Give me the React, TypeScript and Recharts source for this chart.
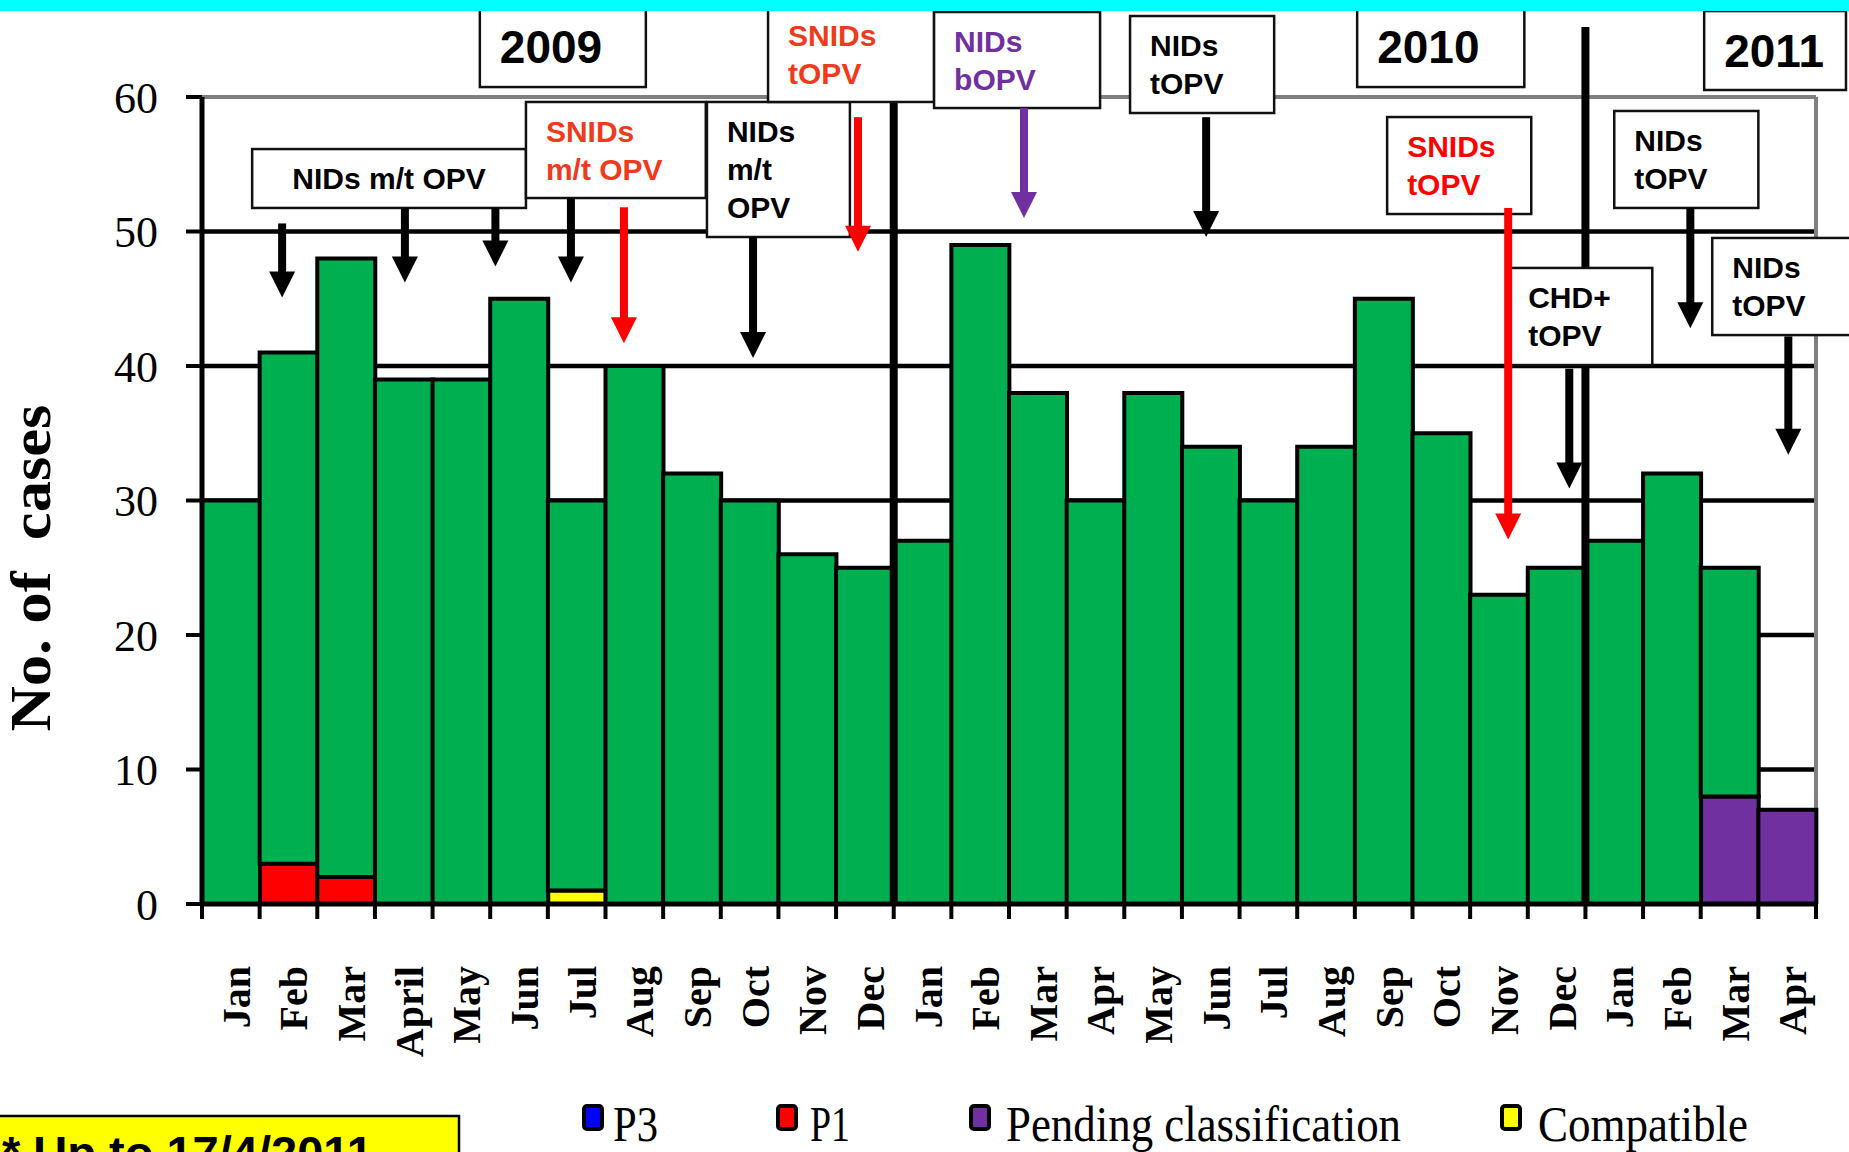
import React from "react";
import {
  BarChart,
  Bar,
  XAxis,
  YAxis,
  CartesianGrid,
  ReferenceLine,
  ReferenceArea,
} from "recharts";

// ── Data ──────────────────────────────────────────────────────────────────────

const periods = [
  "2009 Jan", "2009 Feb", "2009 Mar", "2009 Apr", "2009 May", "2009 Jun",
  "2009 Jul", "2009 Aug", "2009 Sep", "2009 Oct", "2009 Nov", "2009 Dec",
  "2010 Jan", "2010 Feb", "2010 Mar", "2010 Apr", "2010 May", "2010 Jun",
  "2010 Jul", "2010 Aug", "2010 Sep", "2010 Oct", "2010 Nov", "2010 Dec",
  "2011 Jan", "2011 Feb", "2011 Mar", "2011 Apr",
];

const monthLabels = [
  "Jan", "Feb", "Mar", "April", "May", "Jun", "Jul", "Aug", "Sep", "Oct", "Nov", "Dec",
  "Jan", "Feb", "Mar", "Apr", "May", "Jun", "Jul", "Aug", "Sep", "Oct", "Nov", "Dec",
  "Jan", "Feb", "Mar", "Apr",
];

// green (no legend entry) – discarded cases
const discarded = [
  30, 38, 46, 39, 39, 45, 29, 40, 32, 30, 26, 25,
  27, 49, 38, 30, 38, 34, 30, 34, 45, 35, 23, 25,
  27, 32, 17, 0,
];
const p3 = [
  0, 0, 0, 0, 0, 0, 0, 0, 0, 0, 0, 0,
  0, 0, 0, 0, 0, 0, 0, 0, 0, 0, 0, 0,
  0, 0, 0, 0,
];
const p1 = [
  0, 3, 2, 0, 0, 0, 0, 0, 0, 0, 0, 0,
  0, 0, 0, 0, 0, 0, 0, 0, 0, 0, 0, 0,
  0, 0, 0, 0,
];
const compatible = [
  0, 0, 0, 0, 0, 0, 1, 0, 0, 0, 0, 0,
  0, 0, 0, 0, 0, 0, 0, 0, 0, 0, 0, 0,
  0, 0, 0, 0,
];
const pending = [
  0, 0, 0, 0, 0, 0, 0, 0, 0, 0, 0, 0,
  0, 0, 0, 0, 0, 0, 0, 0, 0, 0, 0, 0,
  0, 0, 8, 7,
];

const yTicks = [0, 10, 20, 30, 40, 50, 60];
const gridValues = [10, 20, 30, 40, 50];

// year separators (category boundaries) and their top (value units)
const yearBreaks = [
  { x: 12, top: 59.6 },
  { x: 24, top: 65.2 },
];

// annotation boxes, x in month units (0..28), y in case units
const yearTags = [
  { text: "2009", x1: 4.82, x2: 7.7, y1: 60.74, y2: 66.69 },
  { text: "2010", x1: 20.04, x2: 22.94, y1: 60.74, y2: 66.69 },
  { text: "2011", x1: 26.06, x2: 28.52, y1: 60.52, y2: 66.39 },
];

const campaigns = [
  { lines: ["NIDs m/t OPV"], tone: "black", x1: 0.87, x2: 5.62, y1: 51.75, y2: 56.13 },
  { lines: ["SNIDs", "m/t OPV"], tone: "orange", x1: 5.62, x2: 8.74, y1: 52.49, y2: 59.63 },
  { lines: ["NIDs", "m/t", "OPV"], tone: "black", x1: 8.76, x2: 11.24, y1: 49.59, y2: 59.63 },
  { lines: ["SNIDs", "tOPV"], tone: "orange", x1: 9.82, x2: 12.7, y1: 59.63, y2: 66.77 },
  { lines: ["NIDs", "bOPV"], tone: "purple", x1: 12.7, x2: 15.58, y1: 59.18, y2: 66.32 },
  { lines: ["NIDs", "tOPV"], tone: "black", x1: 16.1, x2: 18.6, y1: 58.81, y2: 66.02 },
  { lines: ["SNIDs", "tOPV"], tone: "red", x1: 20.56, x2: 23.06, y1: 51.3, y2: 58.51 },
  { lines: ["CHD+", "tOPV"], tone: "black", x1: 22.66, x2: 25.16, y1: 40.07, y2: 47.29 },
  { lines: ["NIDs", "tOPV"], tone: "black", x1: 24.5, x2: 27.0, y1: 51.75, y2: 58.96 },
  { lines: ["NIDs", "tOPV"], tone: "black", x1: 26.2, x2: 28.8, y1: 42.3, y2: 49.52 },
];

const arrows = [
  { x: 1.39, from: 50.6, to: 45.1, tone: "black" },
  { x: 3.52, from: 51.75, to: 46.2, tone: "black" },
  { x: 5.09, from: 51.75, to: 47.4, tone: "black" },
  { x: 6.4, from: 52.49, to: 46.2, tone: "black" },
  { x: 7.32, from: 51.8, to: 41.7, tone: "red" },
  { x: 9.56, from: 49.59, to: 40.6, tone: "black" },
  { x: 11.38, from: 58.5, to: 48.5, tone: "red" },
  { x: 14.26, from: 59.18, to: 51.0, tone: "purple" },
  { x: 17.42, from: 58.5, to: 49.6, tone: "black" },
  { x: 22.66, from: 51.75, to: 27.1, tone: "red" },
  { x: 23.72, from: 39.8, to: 30.9, tone: "black" },
  { x: 25.82, from: 51.75, to: 42.8, tone: "black" },
  { x: 27.52, from: 42.2, to: 33.4, tone: "black" },
];

const legendItems = [
  { label: "P3", color: "#0000FF" },
  { label: "P1", color: "#FF0000" },
  { label: "Pending classification", color: "#7030A0" },
  { label: "Compatible", color: "#FFFF00" },
];

// ── Layout / styles ───────────────────────────────────────────────────────────

const W = 1849;
const H = 1152;
const PLOT_LEFT = 202;
const PLOT_RIGHT = 1816;
const PLOT_TOP = 97;
const PLOT_BOTTOM = 904;
const Y_AXIS_W = 60;
const X_AXIS_H = 150;
const BAND = (PLOT_RIGHT - PLOT_LEFT) / periods.length;

const SERIF = '"Liberation Serif", "Times New Roman", Times, serif';
const SANS = '"Liberation Sans", Arial, Helvetica, sans-serif';

const TONES: Record<string, string> = {
  black: "#000000",
  orange: "#EF3B1D",
  red: "#FF0000",
  purple: "#7030A0",
};

const COLORS = {
  discarded: "#00B050",
  p3: "#0000FF",
  p1: "#FF0000",
  compatible: "#FFFF00",
  pending: "#7030A0",
};

const LEGEND_POS = [
  { marker: 584, text: 613, len: 45 },
  { marker: 778, text: 810, len: 40 },
  { marker: 971, text: 1006, len: 395 },
  { marker: 1502, text: 1538, len: 210 },
];

const data = periods.map((period, i) => ({
  period,
  pos: i + 0.5,
  p3: p3[i],
  p1: p1[i],
  compatible: compatible[i],
  pending: pending[i],
  discarded: discarded[i],
}));

// ── Custom pieces ─────────────────────────────────────────────────────────────

function MonthTick(props: any) {
  const { x, y, payload, index } = props;
  const i = periods.indexOf(payload.value);
  const label = i >= 0 ? monthLabels[i] : "";
  const half = BAND / 2;
  return (
    <g transform={`translate(${x},${y})`}>
      <line x1={-half} y1={0} x2={-half} y2={15} stroke="#000" strokeWidth={4} />
      {index === periods.length - 1 && (
        <line x1={half} y1={0} x2={half} y2={15} stroke="#000" strokeWidth={4} />
      )}
      <text
        transform="rotate(-90)"
        x={-62}
        y={19}
        textAnchor="end"
        fontFamily={SERIF}
        fontWeight="bold"
        fontSize={40}
        fill="#000"
      >
        {label}
      </text>
    </g>
  );
}

function arrowShape(color: string) {
  return (p: any) => {
    const x = p.x1;
    const top = Math.min(p.y1, p.y2);
    const tip = Math.max(p.y1, p.y2);
    const head = 26;
    const half = 13;
    return (
      <g>
        <rect x={x - 4} y={top} width={8} height={Math.max(0, tip - head - top + 1)} fill={color} />
        <polygon
          points={`${x - half},${tip - head} ${x + half},${tip - head} ${x},${tip}`}
          fill={color}
        />
      </g>
    );
  };
}

function noteShape(lines: string[], color: string) {
  return (p: any) => {
    const { x, y, width, height } = p;
    const centered = lines.length === 1;
    return (
      <g>
        <rect x={x} y={y} width={width} height={height} fill="#fff" stroke="#111" strokeWidth={2.5} />
        {lines.map((t, i) => (
          <text
            key={i}
            x={centered ? x + width / 2 : x + 20}
            y={y + 40 + i * 38}
            textAnchor={centered ? "middle" : "start"}
            fontFamily={SANS}
            fontWeight="bold"
            fontSize={30}
            fill={color}
          >
            {t}
          </text>
        ))}
      </g>
    );
  };
}

function yearShape(text: string) {
  return (p: any) => {
    const { x, y, width, height } = p;
    return (
      <g>
        <rect x={x} y={y} width={width} height={height} fill="#fff" stroke="#111" strokeWidth={2.5} />
        <text x={x + 20} y={y + 56} fontFamily={SANS} fontWeight="bold" fontSize={46} fill="#000">
          {text}
        </text>
      </g>
    );
  };
}

// ── Main export ───────────────────────────────────────────────────────────────

export default function App() {
  return (
    <div
      style={{
        position: "absolute",
        left: 0,
        top: 0,
        width: W,
        height: H,
        overflow: "hidden",
        background: "#fff",
      }}
    >
      <BarChart
        width={W}
        height={H}
        data={data}
        barCategoryGap={0}
        barGap={0}
        margin={{
          top: PLOT_TOP,
          right: W - PLOT_RIGHT,
          bottom: H - PLOT_BOTTOM - X_AXIS_H,
          left: PLOT_LEFT - Y_AXIS_W,
        }}
      >
        <CartesianGrid
          vertical={false}
          horizontalValues={gridValues}
          stroke="#000"
          strokeWidth={4.5}
        />
        <XAxis
          dataKey="period"
          interval={0}
          tick={<MonthTick />}
          tickLine={false}
          tickSize={0}
          tickMargin={0}
          height={X_AXIS_H}
          axisLine={{ stroke: "#000", strokeWidth: 5 }}
        />
        <XAxis xAxisId="n" type="number" dataKey="pos" domain={[0, 28]} allowDataOverflow hide />
        <YAxis
          domain={[0, 60]}
          ticks={yTicks}
          interval={0}
          width={Y_AXIS_W}
          tickSize={16}
          tickMargin={28}
          allowDataOverflow
          tick={{ fontSize: 44, fill: "#000", fontFamily: SERIF }}
          tickLine={{ stroke: "#000", strokeWidth: 4 }}
          axisLine={{ stroke: "#000", strokeWidth: 5 }}
        />

        {/* plot frame, right side, grey (under the bars) */}
        <ReferenceLine
          xAxisId="n"
          segment={[{ x: 28, y: 0 }, { x: 28, y: 60 }]}
          stroke="#808080"
          strokeWidth={4}
          ifOverflow="visible"
          zIndex={250}
        />

        <Bar dataKey="p3" stackId="a" fill={COLORS.p3} stroke="#000" strokeWidth={4} isAnimationActive={false} />
        <Bar dataKey="p1" stackId="a" fill={COLORS.p1} stroke="#000" strokeWidth={4} isAnimationActive={false} />
        <Bar dataKey="compatible" stackId="a" fill={COLORS.compatible} stroke="#000" strokeWidth={4} isAnimationActive={false} />
        <Bar dataKey="pending" stackId="a" fill={COLORS.pending} stroke="#000" strokeWidth={4} isAnimationActive={false} />
        <Bar dataKey="discarded" stackId="a" fill={COLORS.discarded} stroke="#000" strokeWidth={4} isAnimationActive={false} />

        {/* plot frame, top, grey */}
        <ReferenceLine
          xAxisId="n"
          segment={[{ x: 0, y: 60 }, { x: 28, y: 60 }]}
          stroke="#808080"
          strokeWidth={4}
          ifOverflow="visible"
          zIndex={450}
        />

        {/* year separators */}
        {yearBreaks.map((b, i) => (
          <ReferenceLine
            key={`yb${i}`}
            xAxisId="n"
            segment={[{ x: b.x, y: 0 }, { x: b.x, y: b.top }]}
            stroke="#000"
            strokeWidth={8}
            ifOverflow="visible"
            zIndex={460}
          />
        ))}

        {/* year tags */}
        {yearTags.map((t, i) => (
          <ReferenceArea
            key={`yt${i}`}
            xAxisId="n"
            x1={t.x1}
            x2={t.x2}
            y1={t.y1}
            y2={t.y2}
            ifOverflow="visible"
            shape={yearShape(t.text)}
            zIndex={800}
          />
        ))}

        {/* campaign boxes */}
        {campaigns.map((c, i) => (
          <ReferenceArea
            key={`cb${i}`}
            xAxisId="n"
            x1={c.x1}
            x2={c.x2}
            y1={c.y1}
            y2={c.y2}
            ifOverflow="visible"
            shape={noteShape(c.lines, TONES[c.tone])}
            zIndex={800}
          />
        ))}

        {/* campaign arrows */}
        {arrows.map((a, i) => (
          <ReferenceLine
            key={`ar${i}`}
            xAxisId="n"
            segment={[{ x: a.x, y: a.from }, { x: a.x, y: a.to }]}
            ifOverflow="visible"
            shape={arrowShape(TONES[a.tone])}
            zIndex={900}
          />
        ))}
      </BarChart>

      <svg
        width={W}
        height={H}
        style={{ position: "absolute", left: 0, top: 0, pointerEvents: "none" }}
      >
        <rect x={0} y={0} width={W} height={11} fill="#00FFFF" />

        <text
          x={50}
          y={568}
          transform="rotate(-90 50 568)"
          textAnchor="middle"
          fontFamily={SERIF}
          fontWeight="bold"
          fontSize={56}
          textLength={327}
          lengthAdjust="spacingAndGlyphs"
          style={{ whiteSpace: "pre" }}
          fill="#000"
        >
          {"No. of  cases"}
        </text>

        {legendItems.map((it, i) => (
          <g key={it.label}>
            <rect
              x={LEGEND_POS[i].marker}
              y={1106}
              width={18}
              height={23}
              rx={3}
              fill={it.color}
              stroke="#000"
              strokeWidth={4}
            />
            <text
              x={LEGEND_POS[i].text}
              y={1141}
              fontFamily={SERIF}
              fontSize={50}
              textLength={LEGEND_POS[i].len}
              lengthAdjust="spacingAndGlyphs"
              fill="#000"
            >
              {it.label}
            </text>
          </g>
        ))}

        <rect x={-3} y={1116} width={462} height={60} fill="#FFFF00" stroke="#000" strokeWidth={2.5} />
        <text x={2} y={1169} fontFamily={SANS} fontWeight="bold" fontSize={47} fill="#000">
          * Up to 17/4/2011
        </text>
      </svg>
    </div>
  );
}
